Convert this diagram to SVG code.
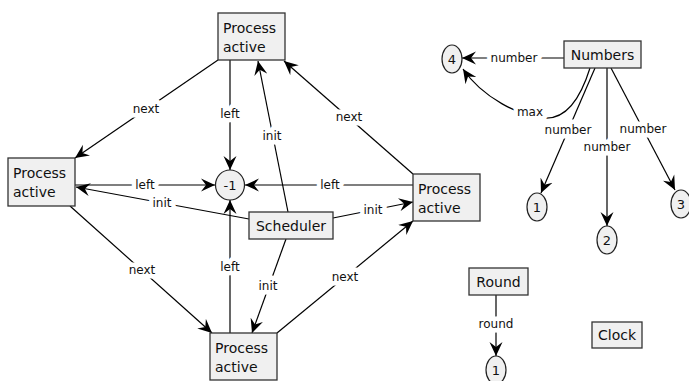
<svg xmlns="http://www.w3.org/2000/svg" width="689" height="381" viewBox="0 0 689 381">
  <defs>
    <marker id="arrow" viewBox="0 -7 15 14" refX="14" refY="0" markerWidth="15" markerHeight="14" markerUnits="userSpaceOnUse" orient="auto">
      <path d="M0,-6.5 L14,0 L0,6.5 L5,0 z" fill="#000"/>
    </marker>
    <style>
      .box { fill: #f0f0f0; stroke: #333; stroke-width: 1.3; }
      .tok { fill: #f0f0f0; stroke: #222; stroke-width: 1.2; }
      .ntext { font-family: "DejaVu Sans", Verdana, sans-serif; font-size: 14px; fill: #111; }
      .ttext { font-family: "DejaVu Sans", Verdana, sans-serif; font-size: 13px; fill: #111; text-anchor: middle; }
      .edge { fill: none; stroke: #000; stroke-width: 1.2; marker-end: url(#arrow); }
      .elabel { font-family: "DejaVu Sans", Verdana, sans-serif; font-size: 12px; fill: #111; text-anchor: middle;
                paint-order: stroke; stroke: #fff; stroke-width: 9px; stroke-linejoin: round; }
    </style>
  </defs>
  <rect width="689" height="381" fill="#fff"/>

  <!-- connectors -->
  <g id="connectors">
    <!-- Process ring: left links to -1 -->
    <line class="edge" x1="230" y1="60" x2="230" y2="170"/>
    <line class="edge" x1="75" y1="185" x2="215" y2="185"/>
    <line class="edge" x1="413" y1="185" x2="245" y2="185"/>
    <line class="edge" x1="230" y1="333" x2="230" y2="200"/>
    <!-- Scheduler init links -->
    <line class="edge" x1="288" y1="212" x2="258" y2="61"/>
    <line class="edge" x1="249" y1="219" x2="76" y2="187"/>
    <line class="edge" x1="333" y1="218" x2="413" y2="202"/>
    <line class="edge" x1="286" y1="239" x2="252" y2="333"/>
    <!-- next links -->
    <line class="edge" x1="218" y1="60" x2="75" y2="158"/>
    <line class="edge" x1="413" y1="174" x2="284" y2="61"/>
    <line class="edge" x1="70" y1="206" x2="212" y2="333"/>
    <line class="edge" x1="277" y1="333" x2="413" y2="221"/>
    <!-- Numbers -->
    <line class="edge" x1="564" y1="58" x2="462" y2="58"/>
    <path class="edge" d="M590,68 C580,100 565,119 545,118 C520,117 482,97 463,69"/>
    <line class="edge" x1="595" y1="68" x2="541" y2="193"/>
    <line class="edge" x1="607" y1="68" x2="607" y2="226"/>
    <line class="edge" x1="611" y1="68" x2="675" y2="190"/>
    <!-- Round -->
    <line class="edge" x1="496" y1="295" x2="496" y2="356"/>

    <!-- labels -->
    <text class="elabel" x="146" y="113">next</text>
    <text class="elabel" x="230" y="118">left</text>
    <text class="elabel" x="272" y="140">init</text>
    <text class="elabel" x="349" y="121">next</text>
    <text class="elabel" x="145" y="189">left</text>
    <text class="elabel" x="162" y="207">init</text>
    <text class="elabel" x="330" y="189">left</text>
    <text class="elabel" x="373" y="214">init</text>
    <text class="elabel" x="230" y="271">left</text>
    <text class="elabel" x="268" y="290">init</text>
    <text class="elabel" x="142" y="274">next</text>
    <text class="elabel" x="345" y="281">next</text>
    <text class="elabel" x="514" y="62">number</text>
    <text class="elabel" x="530" y="116">max</text>
    <text class="elabel" x="568" y="134">number</text>
    <text class="elabel" x="607" y="151">number</text>
    <text class="elabel" x="643" y="133">number</text>
    <text class="elabel" x="496" y="328">round</text>
  </g>

  <!-- nodes -->
  <g id="process-top">
    <rect class="box" x="218" y="13" width="67" height="47"/>
    <text class="ntext" x="223" y="33">Process</text>
    <text class="ntext" x="223" y="52">active</text>
  </g>
  <g id="process-left">
    <rect class="box" x="8" y="158" width="67" height="48"/>
    <text class="ntext" x="13" y="178">Process</text>
    <text class="ntext" x="13" y="197">active</text>
  </g>
  <g id="process-right">
    <rect class="box" x="413" y="174" width="67" height="47"/>
    <text class="ntext" x="418" y="194">Process</text>
    <text class="ntext" x="418" y="213">active</text>
  </g>
  <g id="process-bottom">
    <rect class="box" x="210" y="333" width="67" height="47"/>
    <text class="ntext" x="215" y="353">Process</text>
    <text class="ntext" x="215" y="372">active</text>
  </g>
  <g id="scheduler">
    <rect class="box" x="249" y="212" width="84" height="27"/>
    <text class="ntext" x="291" y="231" text-anchor="middle">Scheduler</text>
  </g>
  <g id="minus-one">
    <ellipse class="tok" cx="230" cy="185" rx="14.5" ry="15"/>
    <text class="ttext" x="230" y="190">-1</text>
  </g>
  <g id="numbers">
    <rect class="box" x="564" y="41" width="77" height="27"/>
    <text class="ntext" x="602.5" y="60" text-anchor="middle">Numbers</text>
  </g>
  <g id="num-4">
    <ellipse class="tok" cx="452" cy="59" rx="10" ry="14"/>
    <text class="ttext" x="452" y="64">4</text>
  </g>
  <g id="num-1">
    <ellipse class="tok" cx="537" cy="207" rx="10" ry="14"/>
    <text class="ttext" x="537" y="212">1</text>
  </g>
  <g id="num-2">
    <ellipse class="tok" cx="607" cy="240" rx="10" ry="14"/>
    <text class="ttext" x="607" y="245">2</text>
  </g>
  <g id="num-3">
    <ellipse class="tok" cx="681" cy="204" rx="10" ry="14"/>
    <text class="ttext" x="681" y="209">3</text>
  </g>
  <g id="round">
    <rect class="box" x="469" y="268" width="59" height="27"/>
    <text class="ntext" x="498.5" y="287" text-anchor="middle">Round</text>
  </g>
  <g id="round-1">
    <ellipse class="tok" cx="496" cy="370" rx="10" ry="14"/>
    <text class="ttext" x="496" y="375">1</text>
  </g>
  <g id="clock">
    <rect class="box" x="592" y="322" width="50" height="26"/>
    <text class="ntext" x="617" y="340" text-anchor="middle">Clock</text>
  </g>
</svg>
